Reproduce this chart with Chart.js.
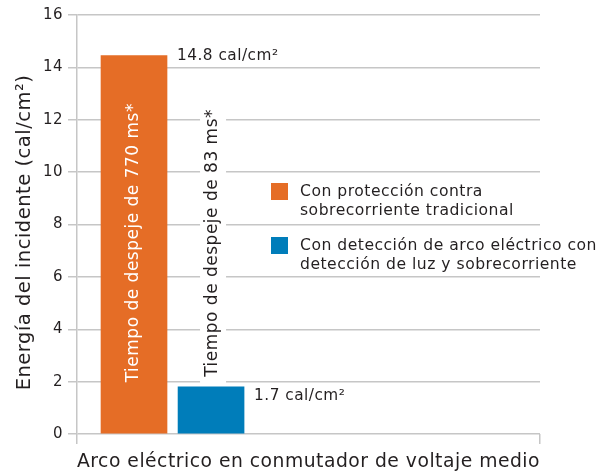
<!DOCTYPE html>
<html>
<head>
<meta charset="utf-8">
<script src="https://cdn.jsdelivr.net/npm/chart.js@4"></script>
<style>
  html, body { margin: 0; padding: 0; background: #fff; }
  #wrap { width: 607px; height: 473px; position: relative; }
</style>
</head>
<body>
<div id="wrap"><canvas id="grafico"></canvas></div>
<script>
const series = [
  ["Con protección contra", "sobrecorriente tradicional"],
  ["Con detección de arco eléctrico con", "detección de luz y sobrecorriente"]
];
const energia = [14.45, 1.8];
const rotulosValor = ["14.8 cal/cm²", "1.7 cal/cm²"];
const rotulosDespeje = ["Tiempo de despeje de 770 ms*", "Tiempo de despeje de 83 ms*"];
const cores = ["#e56d26", "#007dba"];
const yTicks = [0, 2, 4, 6, 8, 10, 12, 14, 16];
const tituloY = "Energía del incidente (cal/cm²)";
const tituloX = "Arco eléctrico en conmutador de voltaje medio";

const FONTE = "'DejaVu Sans', sans-serif";
const TEXTO = "#231f20";
const GRADE = "#c6c6c6";

const rotulos = {
  id: "rotulos",
  beforeDraw(chart) {
    chart.ctx.letterSpacing = "0.5px";
  },
  afterDatasetsDraw(chart) {
    const ctx = chart.ctx;
    const barras = chart.getDatasetMeta(0).data;
    ctx.save();
    barras.forEach((b, i) => {
      const dir = b.x + b.width / 2;
      // valor ao lado da barra
      ctx.font = `15.3px ${FONTE}`;
      ctx.fillStyle = TEXTO;
      ctx.textAlign = "left";
      ctx.textBaseline = "middle";
      ctx.fillText(rotulosValor[i], dir + 10, b.y + (i === 0 ? 0 : 9));

      // tempo de despeje, girado
      ctx.font = `17px ${FONTE}`;
      const w = ctx.measureText(rotulosDespeje[i]).width;
      const dentro = (b.base - b.y) > w + 60;
      ctx.save();
      if (dentro) {
        ctx.translate(b.x, b.base - 51);
      } else {
        ctx.translate(b.x + 2, b.y - 10);
      }
      ctx.rotate(-Math.PI / 2);
      if (!dentro) {
        ctx.fillStyle = "#fff";
        ctx.fillRect(-8, -13, w + 16, 26);
      }
      ctx.fillStyle = dentro ? "#fff" : TEXTO;
      ctx.textAlign = "left";
      ctx.textBaseline = "middle";
      ctx.fillText(rotulosDespeje[i], 0, 0);
      ctx.restore();
    });
    ctx.restore();
  },
  afterDraw(chart) {
    const ctx = chart.ctx;
    ctx.save();
    ctx.font = `15.6px ${FONTE}`;
    ctx.textAlign = "left";
    ctx.textBaseline = "middle";
    series.forEach((linhas, i) => {
      const topo = 183 + i * 54;
      ctx.fillStyle = cores[i];
      ctx.fillRect(271, topo, 17, 17);
      ctx.fillStyle = TEXTO;
      linhas.forEach((l, j) => ctx.fillText(l, 300, topo + 8.5 + j * 19));
    });

    // titulo do eixo y, um pouco abaixo do centro como no original
    const area = chart.chartArea;
    ctx.font = `19.5px ${FONTE}`;
    ctx.fillStyle = TEXTO;
    ctx.textAlign = "center";
    ctx.translate(25, (area.top + area.bottom) / 2 + 8);
    ctx.rotate(-Math.PI / 2);
    ctx.fillText(tituloY, 0, 0);
    ctx.restore();
  }
};

new Chart(document.getElementById("grafico"), {
  type: "bar",
  data: {
    datasets: [{
      data: energia.map((v, i) => ({ x: i + 1, y: v })),
      backgroundColor: cores,
      barThickness: 66,
      grouped: false,
    }],
  },
  options: {
    responsive: true,
    maintainAspectRatio: false,
    animation: false,
    layout: { padding: { top: 15, right: 67, left: 0, bottom: 0 } },
    plugins: {
      legend: { display: false },
      tooltip: { enabled: false },
    },
    scales: {
      x: {
        type: "linear",
        min: 0.26,
        max: 6.27,
        offset: false,
        afterBuildTicks: s => { s.ticks = [{ value: s.min }, { value: s.max }]; },
        grid: { offset: false, drawOnChartArea: false, color: GRADE, lineWidth: 1.5, tickLength: 10 },
        border: { display: false },
        ticks: { display: false },
        title: {
          display: true,
          text: tituloX,
          color: TEXTO,
          font: { family: FONTE, size: 18.8 },
          padding: { top: 0, bottom: 0 },
        },
        afterFit: s => { s.height = 39; },
      },
      y: {
        min: 0,
        max: 16,
        afterBuildTicks: s => { s.ticks = yTicks.map(v => ({ value: v })); },
        grid: { color: GRADE, lineWidth: 1.5, tickLength: 9 },
        border: { color: GRADE, width: 1.5 },
        ticks: { color: TEXTO, font: { family: FONTE, size: 15 }, padding: 5 },
        title: { display: false },
        afterFit: s => { s.width = 77; },
      },
    },
  },
  plugins: [rotulos],
});
</script>
</body>
</html>
